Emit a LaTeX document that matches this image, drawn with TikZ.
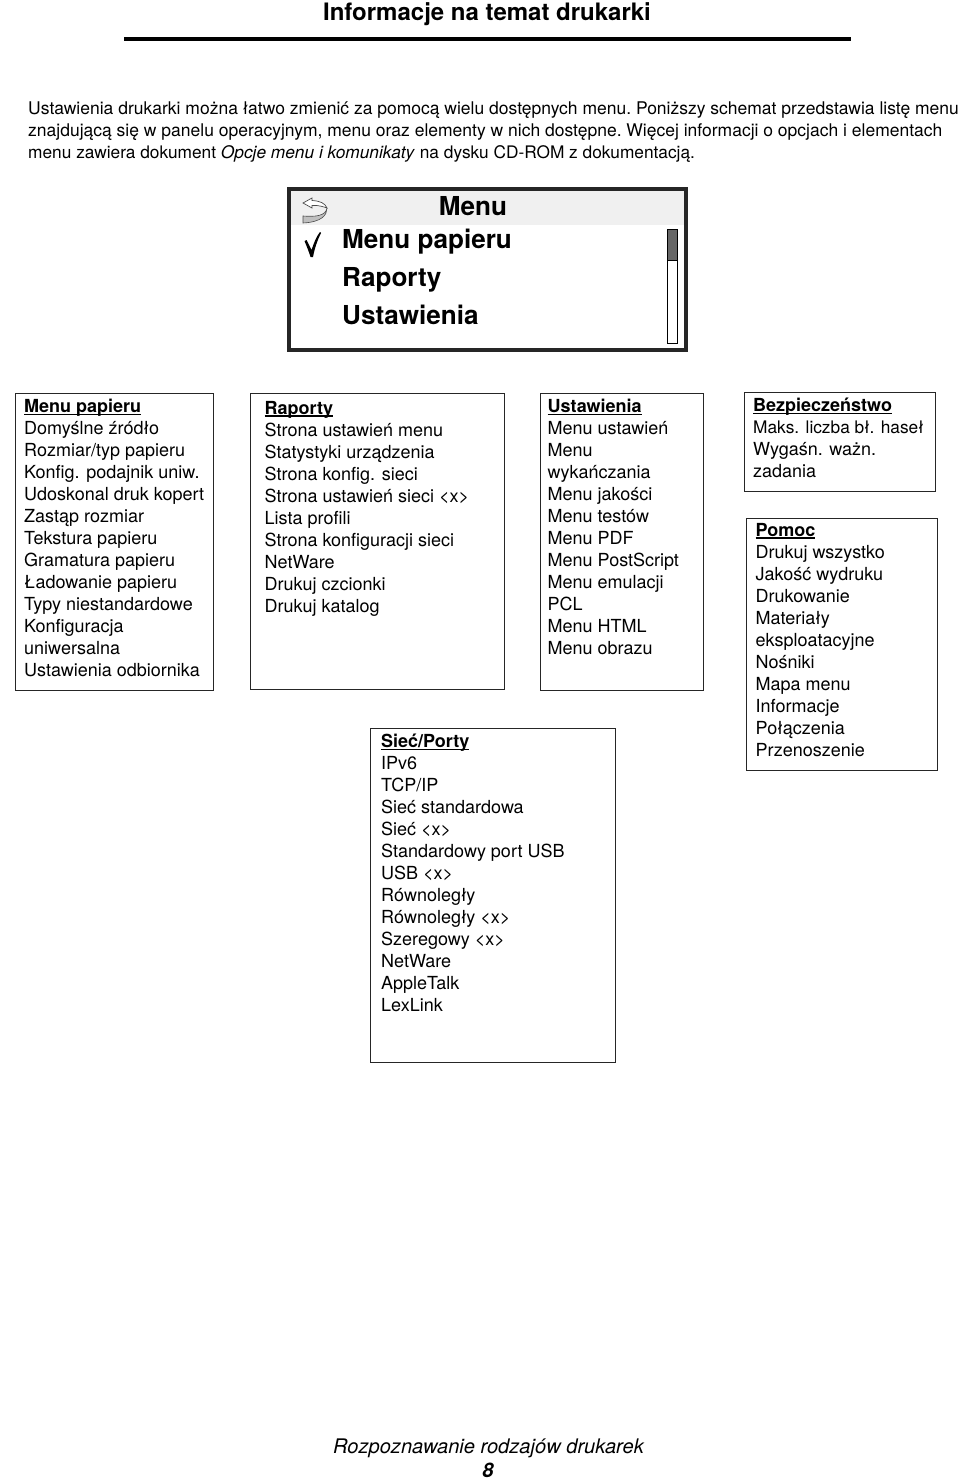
\documentclass[tikz,border=0pt]{standalone}
\usepackage{fontspec}
\setmainfont{TeX Gyre Heros}
\newsavebox{\ulbox}
\newlength{\ulwd}
\newcommand{\ulhead}[1]{\leavevmode\sbox{\ulbox}{\bfseries #1}\settowidth{\ulwd}{\usebox{\ulbox}}\rlap{\rule[-2.6pt]{\ulwd}{1.5pt}}\usebox{\ulbox}}
\tikzset{
 x=1pt,y=1pt,
 mbox/.style={draw=black!85,line width=1.1pt,anchor=north west,inner sep=0pt},
 mtext/.style={anchor=north west,inner sep=0pt,align=left,font=\fontsize{18}{22}\selectfont},
 body/.style={anchor=north west,inner sep=0pt,align=left,font=\frenchspacing\fontsize{17.5}{22}\selectfont},
 panel/.style={anchor=base west,inner sep=0pt,font=\fontsize{26.1}{32}\selectfont\bfseries},
}
\begin{document}
\begin{tikzpicture}
\useasboundingbox (0,0) rectangle (960,-1480);
\node[anchor=base,inner sep=0pt,font=\fontsize{24}{28}\selectfont\bfseries] (title) at (487,-21) {Informacje na temat drukarki};
\fill (124,-37) rectangle (851,-41.5);
\node[body] (intro) at (28,-101.5) {Ustawienia drukarki można łatwo zmienić za pomocą wielu dostępnych menu. Poniższy schemat przedstawia listę menu\\znajdującą się w panelu operacyjnym, menu oraz elementy w nich dostępne. Więcej informacji o opcjach i elementach\\{\fontsize{17.3}{22}\selectfont menu zawiera dokument \textit{Opcje menu i komunikaty} na dysku CD-ROM z dokumentacją.}};
% panel
\fill[black!6] (291,-190) rectangle (684,-225);
\draw[black!85,line width=4pt] (289,-189) rectangle (685.5,-350);
\node[panel,anchor=base] (ph) at (473,-215) {Menu};
\node[panel] (p1) at (342,-248) {Menu papieru};
\node[panel] (p2) at (342,-286) {Raporty};
\node[panel] (p3) at (342,-324) {Ustawienia};
\draw[black,line width=1pt] (667.5,-229.5) rectangle (677.5,-343.5);
\fill[black!60,draw=black,line width=1pt] (667.5,-229.5) rectangle (677.5,-260);
\fill[black] (304.5,-241) -- (306.5,-240) -- (311.5,-250) .. controls (314,-243) and (316,-237) .. (320,-232) -- (321,-233) .. controls (317,-241) and (314.5,-249) .. (313,-257) -- (310.5,-257) .. controls (309,-252) and (307,-247) .. (304.5,-241) -- cycle;
% back icon
\fill[black!25,draw=black!70,line width=.6pt] (303,-216) .. controls (315,-217) and (326,-216) .. (327,-208) .. controls (327,-215) and (322,-222) .. (303,-223) -- cycle;
\draw[black!70,line width=.7pt,fill=white] (312,-198) -- (303,-203) -- (312,-208) -- (312,-205.5) .. controls (319,-205) and (324,-207) .. (327,-208) .. controls (325,-203) and (320,-201) .. (312,-200.5) -- cycle;
% boxes
\node[mbox,minimum width=198,minimum height=297] (b1) at (15,-393) {};
\node[mtext] (t1) at (24,-399) {\ulhead{Menu papieru}\\Domyślne źródło\\Rozmiar/typ papieru\\Konfig. podajnik uniw.\\Udoskonal druk kopert\\Zastąp rozmiar\\Tekstura papieru\\Gramatura papieru\\Ładowanie papieru\\Typy niestandardowe\\Konfiguracja\\uniwersalna\\Ustawienia odbiornika};
\node[mbox,minimum width=254,minimum height=296] (b2) at (250,-393) {};
\node[mtext] (t2) at (264.5,-401) {\ulhead{Raporty}\\Strona ustawień menu\\Statystyki urządzenia\\Strona konfig. sieci\\Strona ustawień sieci <x>\\Lista profili\\Strona konfiguracji sieci\\NetWare\\Drukuj czcionki\\Drukuj katalog};
\node[mbox,minimum width=163,minimum height=297] (b3) at (540,-392.5) {};
\node[mtext] (t3) at (547.5,-399) {\ulhead{Ustawienia}\\Menu ustawień\\Menu\\wykańczania\\Menu jakości\\Menu testów\\Menu PDF\\Menu PostScript\\Menu emulacji\\PCL\\Menu HTML\\Menu obrazu};
\node[mbox,minimum width=191,minimum height=99] (b4) at (743.5,-392) {};
\node[mtext] (t4) at (753,-398) {\ulhead{Bezpieczeństwo}\\{\fontsize{17.3}{22}\selectfont Maks. liczba bł. haseł}\\Wygaśn. ważn.\\zadania};
\node[mbox,minimum width=191,minimum height=252] (b5) at (745.5,-518) {};
\node[mtext] (t5) at (755.5,-523) {\ulhead{Pomoc}\\Drukuj wszystko\\Jakość wydruku\\Drukowanie\\Materiały\\eksploatacyjne\\Nośniki\\Mapa menu\\Informacje\\Połączenia\\Przenoszenie};
\node[mbox,minimum width=245,minimum height=334] (b6) at (370,-728) {};
\node[mtext] (t6) at (381,-734) {\ulhead{Sieć/Porty}\\IPv6\\TCP/IP\\Sieć standardowa\\Sieć <x>\\Standardowy port USB\\USB <x>\\Równoległy\\Równoległy <x>\\Szeregowy <x>\\NetWare\\AppleTalk\\LexLink};
\node[anchor=base,inner sep=0pt,font=\fontsize{20.1}{24}\selectfont\itshape] (foot) at (488.5,-1453) {Rozpoznawanie rodzajów drukarek};
\node[anchor=base,inner sep=0pt,font=\fontsize{20}{24}\selectfont\itshape\bfseries] (pg) at (488,-1477) {8};
\end{tikzpicture}
\end{document}
